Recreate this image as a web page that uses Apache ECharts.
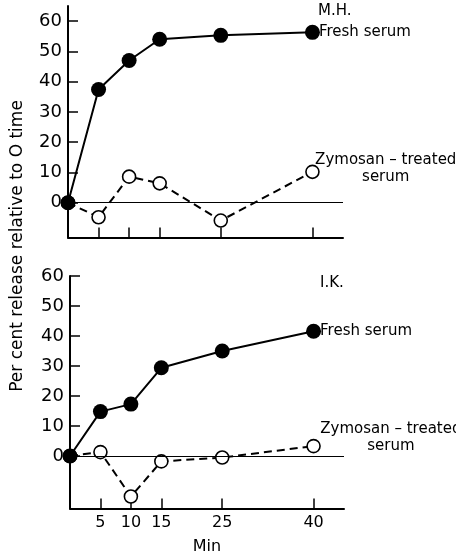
<!DOCTYPE html>
<html>
<head>
<meta charset="utf-8">
<script src="https://cdn.jsdelivr.net/npm/echarts@6/dist/echarts.min.js"></script>
<style>
  html, body { margin: 0; padding: 0; background: #fff; }
  #main { width: 456px; height: 553px; }
</style>
</head>
<body>
<div id="main"></div>
<script>
// minutes after adding serum
const minutes = [0, 5, 10, 15, 25, 40];
// M.H.
const mhFresh = [0, 37.4, 47, 54, 55.3, 56.3];
const mhZymosan = [0, -4.8, 8.6, 6.4, -5.9, 10.2];
// I.K.
const ikFresh = [0, 14.8, 17.3, 29.4, 35, 41.6];
const ikZymosan = [0, 1.3, -13.5, -1.8, -0.5, 3.3];

const yTicks = [0, 10, 20, 30, 40, 50, 60];
const xTicks = [5, 10, 15, 25, 40];

const font = 'DejaVu Sans';
const black = '#000';

var myChart = echarts.init(document.getElementById('main'));

// last point carries the series label
const toData = (vals, label) => minutes.map((m, i) => {
    let item = {value: [m, vals[i]]};
    if (i === minutes.length - 1 && label) item.label = label;
    return item;
});

const freshLabel = {
    show: true,
    position: 'right',
    distance: -1,
    formatter: 'Fresh serum',
    color: black,
    fontFamily: font,
    fontSize: 15
};
const zymLabel = (offset) => ({
    show: true,
    position: 'right',
    distance: -4,
    offset: offset,
    formatter: '{a|Zymosan – treated}\n{a|serum}',
    rich: {
        a: {width: 140, align: 'center', color: black, fontFamily: font, fontSize: 15, lineHeight: 17}
    }
});

const xAxisOf = (gridIndex, showLabels) => ({
    type: 'value',
    gridIndex: gridIndex,
    min: 0,
    max: 45,
    axisLine: {onZero: false, lineStyle: {color: black, width: 2}},
    axisTick: {inside: true, length: 10, customValues: xTicks, lineStyle: {color: black, width: 1.5}},
    axisLabel: {
        show: showLabels,
        customValues: xTicks,
        color: black,
        fontFamily: font,
        fontSize: 16,
        margin: 6
    },
    splitLine: {show: false},
    name: showLabels ? 'Min' : '',
    nameLocation: 'middle',
    nameGap: 30,
    nameTextStyle: {color: black, fontFamily: font, fontSize: 16}
});

const yAxisOf = (gridIndex, min, max) => ({
    type: 'value',
    gridIndex: gridIndex,
    min: min,
    max: max,
    axisLine: {show: true, onZero: false, lineStyle: {color: black, width: 2}},
    axisTick: {inside: true, length: 10, customValues: yTicks, lineStyle: {color: black, width: 1.5}},
    axisLabel: {
        customValues: yTicks,
        color: black,
        fontFamily: font,
        fontSize: 18,
        margin: 6
    },
    splitLine: {show: false}
});

const freshSeries = (idx, vals) => ({
    type: 'line',
    xAxisIndex: idx,
    yAxisIndex: idx,
    data: toData(vals, freshLabel),
    symbol: 'circle',
    symbolSize: 15,
    z: 4,
    lineStyle: {color: black, width: 2},
    itemStyle: {color: black, borderWidth: 0},
    label: {show: false}
});

const zymSeries = (idx, vals, offset) => ({
    type: 'line',
    xAxisIndex: idx,
    yAxisIndex: idx,
    data: toData(vals, zymLabel(offset)),
    symbol: 'circle',
    symbolSize: 13,
    z: 3,
    lineStyle: {color: black, width: 2, type: [8, 5]},
    itemStyle: {color: '#fff', borderColor: black, borderWidth: 1.6},
    label: {show: false}
});

// horizontal line at zero
const zeroLine = (idx) => ({
    type: 'line',
    xAxisIndex: idx,
    yAxisIndex: idx,
    data: [],
    z: 1,
    markLine: {
        silent: true,
        symbol: 'none',
        label: {show: false},
        lineStyle: {color: black, width: 1.2, type: 'solid'},
        data: [{yAxis: 0}]
    }
});

const option = {
    backgroundColor: '#fff',
    animation: false,
    grid: [
        {left: 68, top: 6, width: 275, height: 231.5, outerBoundsMode: 'none', containLabel: false},
        {left: 70, top: 276, width: 274, height: 232.5, outerBoundsMode: 'none', containLabel: false}
    ],
    xAxis: [xAxisOf(0, false), xAxisOf(1, true)],
    yAxis: [yAxisOf(0, -11.5, 65), yAxisOf(1, -17.5, 60)],
    graphic: [
        {
            type: 'text',
            x: 18,
            y: 246,
            rotation: Math.PI / 2,
            style: {
                text: 'Per cent release relative to O time',
                fill: black,
                font: '17px "DejaVu Sans"',
                align: 'center',
                verticalAlign: 'middle'
            }
        },
        {type: 'text', left: 318, top: 4, style: {text: 'M.H.', fill: black, font: '15px "DejaVu Sans"'}},
        {type: 'text', left: 320, top: 276, style: {text: 'I.K.', fill: black, font: '15px "DejaVu Sans"'}}
    ],
    series: [
        zeroLine(0),
        zymSeries(0, mhZymosan, [0, -3]),
        freshSeries(0, mhFresh),
        zeroLine(1),
        zymSeries(1, ikZymosan, [4, -8]),
        freshSeries(1, ikFresh)
    ]
};

myChart.setOption(option);
</script>
</body>
</html>
